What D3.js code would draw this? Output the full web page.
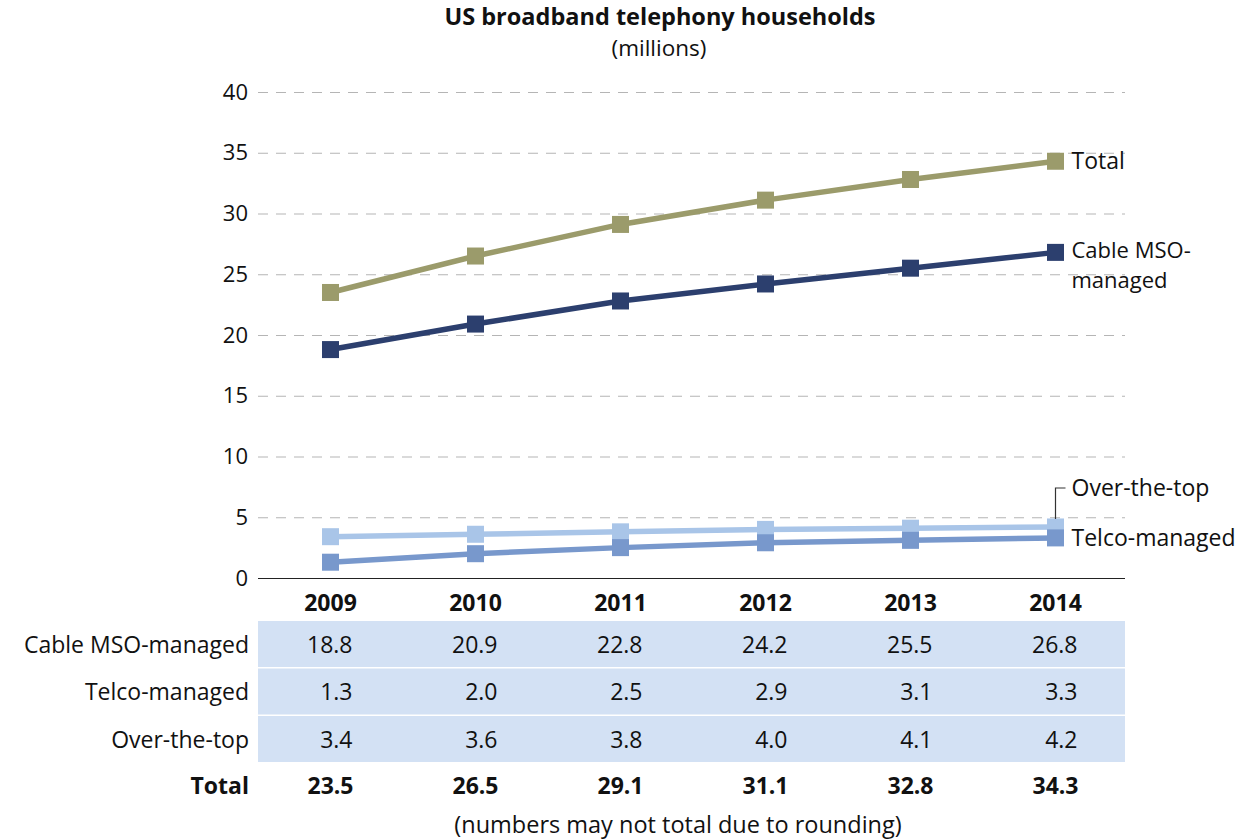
<!DOCTYPE html>
<html>
<head>
<meta charset="utf-8">
<script src="https://cdn.jsdelivr.net/npm/d3@7"></script>
<style>
  body { margin: 0; background: #fff; }
  svg text { font-family: "Open Sans", "Noto Sans", sans-serif; fill: #111; }
</style>
</head>
<body>
<svg id="chart" width="1245" height="839"></svg>
<script>
// datos
let years = ['2009', '2010', '2011', '2012', '2013', '2014'];
let cable = [18.8, 20.9, 22.8, 24.2, 25.5, 26.8];
let telco = [1.3, 2.0, 2.5, 2.9, 3.1, 3.3];
let ott = [3.4, 3.6, 3.8, 4.0, 4.1, 4.2];
let total = [23.5, 26.5, 29.1, 31.1, 32.8, 34.3];
let yTicks = [0, 5, 10, 15, 20, 25, 30, 35, 40];

let series = [
    { name: 'Over-the-top', values: ott, color: '#a9c5e8' },
    { name: 'Telco-managed', values: telco, color: '#7898cc' },
    { name: 'Cable MSO-managed', values: cable, color: '#2c3f6e' },
    { name: 'Total', values: total, color: '#9b9b6b' }
];

let rows = [
    { label: 'Cable MSO-managed', values: cable },
    { label: 'Telco-managed', values: telco },
    { label: 'Over-the-top', values: ott }
];

let svg = d3.select('#chart');
let left = 258, right = 1128;
let fs = '23px';

let x = d3.scalePoint().domain(years).range([left, right]).padding(0.5);
let y = d3.scaleLinear().domain([0, 40]).range([578, 92]);

// titulo
svg.append('text').attr('x', 660).attr('y', 25).attr('text-anchor', 'middle')
    .style('font-size', '23.5px').style('font-weight', 'bold')
    .text('US broadband telephony households');
svg.append('text').attr('x', 659).attr('y', 56).attr('text-anchor', 'middle')
    .style('font-size', '22.5px').text('(millions)');

// eje y con lineas punteadas
let yAxis = svg.append('g').attr('transform', `translate(${left},0)`)
    .call(d3.axisLeft(y).tickValues(yTicks).tickSize(-(1125 - left)).tickPadding(10));
yAxis.select('.domain').remove();
yAxis.selectAll('.tick line')
    .attr('stroke', '#b5b5b5').attr('stroke-width', 1.2).attr('stroke-dasharray', '10,8')
    .filter(d => d === 0).attr('stroke', '#222').attr('stroke-dasharray', null);
yAxis.selectAll('.tick text').style('font-size', '22px').attr('fill', '#111');

// lineas
let line = d3.line().x((d, i) => x(years[i])).y(d => y(d));
series.forEach(function(s) {
    svg.append('path').datum(s.values)
        .attr('fill', 'none').attr('stroke', s.color).attr('stroke-width', 5.5)
        .attr('d', line);
    svg.append('g').selectAll('rect').data(s.values).join('rect')
        .attr('x', (d, i) => x(years[i]) - 8.5)
        .attr('y', d => y(d) - 8.5)
        .attr('width', 17).attr('height', 17)
        .attr('fill', s.color);
});

// etiquetas de series
let lx = x('2014') + 16;
svg.append('text').attr('x', lx).attr('y', y(total[5]) + 8).style('font-size', fs).text('Total');
svg.append('text').attr('x', lx).attr('y', y(cable[5]) + 6).style('font-size', '22px').text('Cable MSO-');
svg.append('text').attr('x', lx).attr('y', y(cable[5]) + 36).style('font-size', '22px').text('managed');
svg.append('text').attr('x', lx).attr('y', y(telco[5]) + 8).style('font-size', fs).text('Telco-managed');
svg.append('text').attr('x', lx).attr('y', 496).style('font-size', fs).text('Over-the-top');
svg.append('path')
    .attr('d', `M${x('2014')},${y(ott[5]) - 8}V${488}H${lx - 6}`)
    .attr('fill', 'none').attr('stroke', '#333').attr('stroke-width', 1.2);

// tabla
svg.append('g').selectAll('text').data(years).join('text')
    .attr('x', d => x(d)).attr('y', 611).attr('text-anchor', 'middle')
    .style('font-size', fs).style('font-weight', 'bold').text(d => d);

let rowTop = 621, rowH = 47.5;
rows.forEach(function(r, k) {
    let ry = rowTop + k * rowH;
    svg.append('rect').attr('x', left).attr('y', ry).attr('width', 1125 - left).attr('height', rowH - 1.5)
        .attr('fill', '#d3e1f4');
    svg.append('text').attr('x', 249).attr('y', ry + rowH / 2 + 8).attr('text-anchor', 'end')
        .style('font-size', fs).text(r.label);
    svg.append('g').selectAll('text').data(r.values).join('text')
        .attr('x', (d, i) => x(years[i]) + 22).attr('y', ry + rowH / 2 + 8).attr('text-anchor', 'end')
        .style('font-size', fs).text(d => d.toFixed(1));
});

svg.append('text').attr('x', 249).attr('y', 794).attr('text-anchor', 'end')
    .style('font-size', fs).style('font-weight', 'bold').text('Total');
svg.append('g').selectAll('text').data(total).join('text')
    .attr('x', (d, i) => x(years[i]) + 23).attr('y', 794).attr('text-anchor', 'end')
    .style('font-size', fs).style('font-weight', 'bold').text(d => d.toFixed(1));

svg.append('text').attr('x', 678).attr('y', 833).attr('text-anchor', 'middle')
    .style('font-size', '23.5px').text('(numbers may not total due to rounding)');
</script>
</body>
</html>
